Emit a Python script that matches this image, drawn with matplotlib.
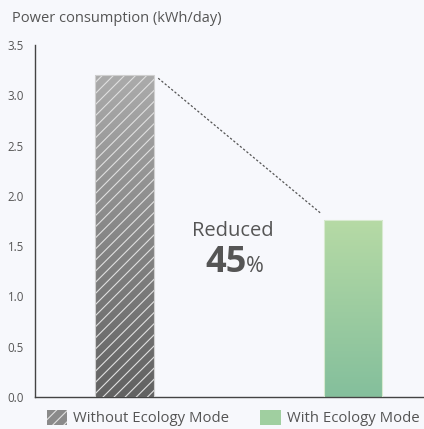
import numpy as np
import matplotlib
matplotlib.use("Agg")
import matplotlib.pyplot as plt
from matplotlib.patches import Patch
from matplotlib.colors import LinearSegmentedColormap

plt.rcParams['font.family'] = ['Open Sans', 'DejaVu Sans']
plt.rcParams['hatch.linewidth'] = 0.8

categories = ["Without Ecology Mode", "With Ecology Mode"]
values = [3.2, 1.76]
reduction_pct = 45
yticks = [0.0, 0.5, 1.0, 1.5, 2.0, 2.5, 3.0, 3.5]
title = "Power consumption (kWh/day)"

bg = "#f7f8fc"
txt = "#555555"
grad_gray = ["#ababab", "#626262"]
grad_green = ["#b6daa5", "#84bf9c"]

fig = plt.figure(figsize=(4.24, 4.29), dpi=100, facecolor=bg)
ax = fig.add_axes([0.0825, 0.0746, 0.9175, 0.8204])
ax.set_facecolor(bg)

x = np.arange(len(categories))
w = 0.255
ax.set_xlim(-0.392, 1.311)
ax.set_ylim(0, 3.5)

bars = ax.bar(x, values, width=w, color='none', edgecolor='none', zorder=2)
grads = [grad_gray, grad_green]
for b, g in zip(bars, grads):
    cmap = LinearSegmentedColormap.from_list("g", [g[1], g[0]])
    x0, y0 = b.get_x(), b.get_y()
    im = ax.imshow(np.linspace(0, 1, 256).reshape(-1, 1), cmap=cmap, origin='lower',
                   extent=[x0, x0 + b.get_width(), y0, y0 + b.get_height()],
                   aspect='auto', zorder=1, interpolation='bilinear')
    im.set_clip_path(b)
# hatch overlay on first bar
ax.bar(x[0], values[0], width=w, color='none', edgecolor='#e0e0e0', hatch='///',
       linewidth=0, zorder=3)
ax.bar(x, values, width=w, color='none', edgecolor=['#d0d0d0', '#d8ead0'],
       linewidth=0.8, zorder=4)
ax.set_xlim(-0.392, 1.311)
ax.set_ylim(0, 3.5)

# dashed connector
ax.plot([x[0] + w / 2 + 0.02, x[1] - w / 2 - 0.015],
        [values[0] - 0.03, values[1] + 0.07],
        linestyle=(0, (1.8, 1.6)), color='#555555', linewidth=0.9, zorder=5)

ax.text(0.475, 1.65, "Reduced", ha='center', va='center', fontsize=14.5, color=txt)
ax.text(0.445, 1.33, f"{reduction_pct}", ha='center', va='center', fontsize=26,
        fontweight='bold', color=txt)
ax.text(0.57, 1.30, "%", ha='center', va='center', fontsize=15.5, color=txt)

ax.set_xticks([])
ax.set_yticks(yticks)
ax.set_yticklabels([f"{t:.1f}" for t in yticks], fontsize=8.3, color=txt)
ax.tick_params(axis='y', length=0, pad=8)
for s in ['top', 'right']:
    ax.spines[s].set_visible(False)
for s in ['left', 'bottom']:
    ax.spines[s].set_color('#444444')
    ax.spines[s].set_linewidth(1.0)

fig.text(12 / 424, 1 - 18 / 429, title, ha='left', va='center', fontsize=10.5, color=txt)

handles = [Patch(facecolor='#8a8a8a', edgecolor='#e0e0e0', hatch='///', linewidth=0),
           Patch(facecolor='#a0cfa0', edgecolor='none')]
fig.legend(handles, categories, loc='center', bbox_to_anchor=(0.55, 1 - 418 / 429),
           ncol=2, frameon=False, fontsize=10.7, handlelength=1.35, handleheight=1.2,
           columnspacing=2.1, handletextpad=0.45, labelcolor=txt, borderpad=0, borderaxespad=0)

fig.savefig("out.png", dpi=100, facecolor=bg)
